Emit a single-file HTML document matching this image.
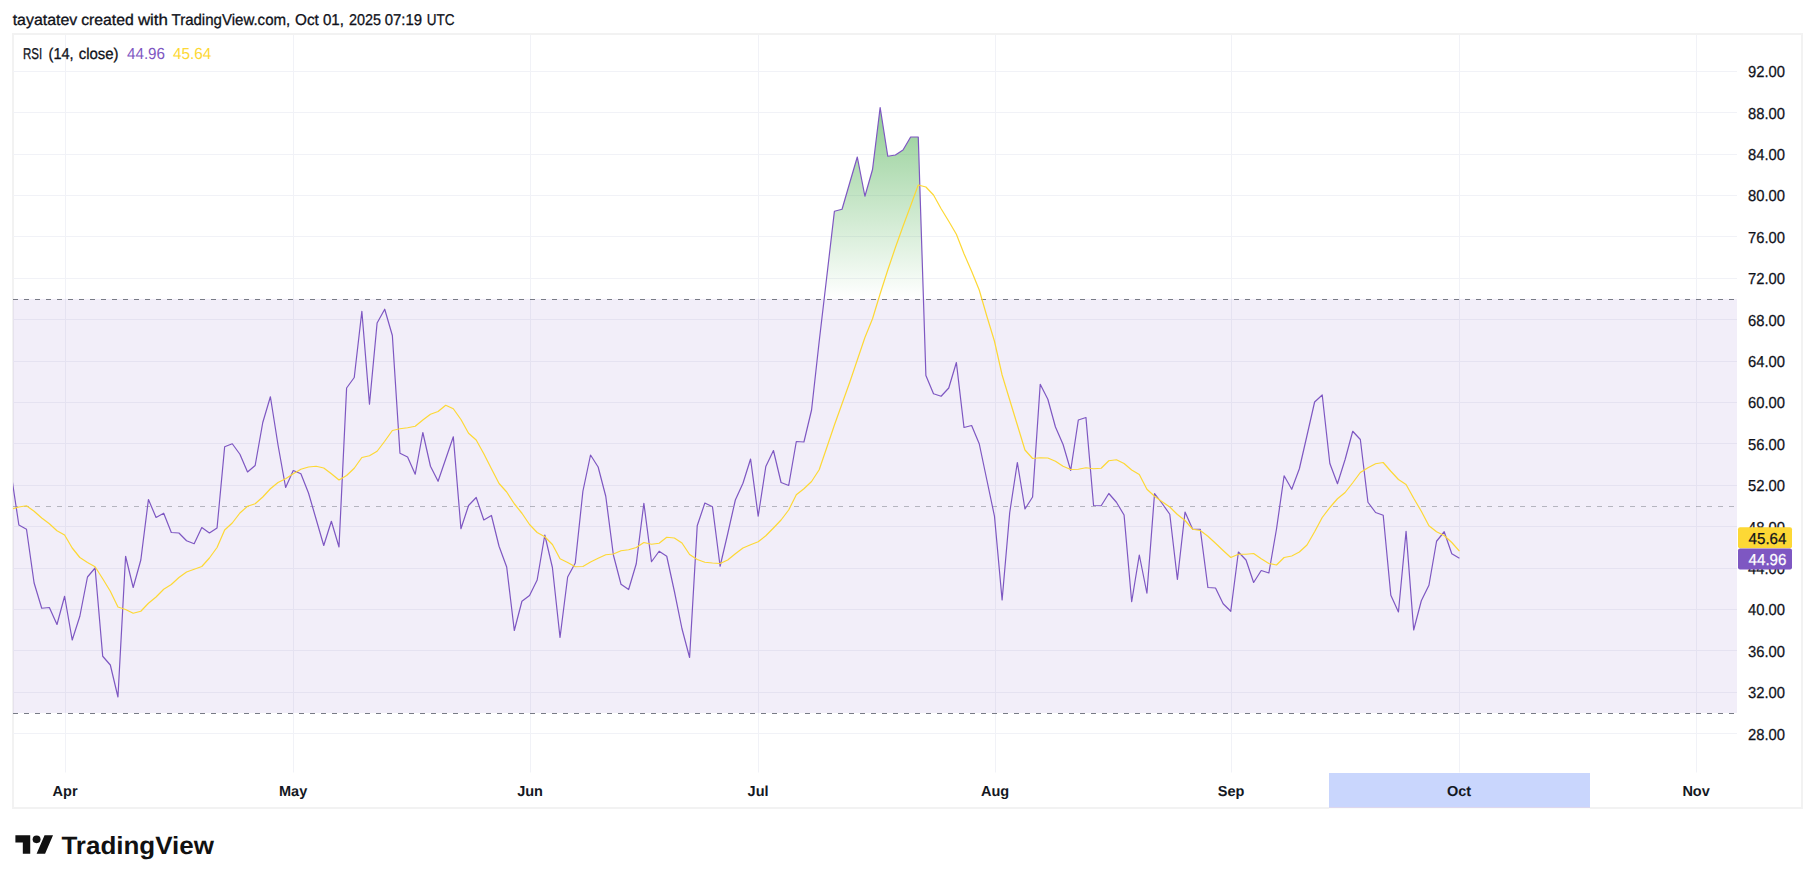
<!DOCTYPE html>
<html><head><meta charset="utf-8"><title>RSI chart</title>
<style>
html,body{margin:0;padding:0;background:#fff;}
body{width:1815px;height:883px;overflow:hidden;position:relative;font-family:"Liberation Sans",sans-serif;}
svg{position:absolute;left:0;top:0;}
text{font-family:"Liberation Sans",sans-serif;text-rendering:geometricPrecision;}
</style></head><body>
<svg width="1815" height="883" viewBox="0 0 1815 883">
<defs>
<linearGradient id="gg" gradientUnits="userSpaceOnUse" x1="0" y1="-11.6" x2="0" y2="298.9">
<stop offset="0" stop-color="#4caf50" stop-opacity="1"/><stop offset="1" stop-color="#4caf50" stop-opacity="0"/></linearGradient>
<clipPath id="pane"><rect x="13" y="35" width="1724" height="738"/></clipPath>
<clipPath id="ob"><rect x="14" y="35" width="1723" height="263.9"/></clipPath>
</defs>
<rect x="0" y="0" width="1815" height="883" fill="#fff"/>
<rect x="13" y="34" width="1789" height="774" fill="none" stroke="#f2f2f2" stroke-width="2"/>
<rect x="1329" y="773" width="261" height="34" fill="#c9d6fd"/><rect x="1329" y="807" width="261" height="1" fill="#dcd6ee"/><rect x="1329" y="808" width="261" height="1" fill="#fafcfa"/>
<g stroke="#f1f2f7" stroke-width="1" fill="none"><path d="M13,733.5H1737"/><path d="M13,692.5H1737"/><path d="M13,650.5H1737"/><path d="M13,609.5H1737"/><path d="M13,568.5H1737"/><path d="M13,526.5H1737"/><path d="M13,485.5H1737"/><path d="M13,443.5H1737"/><path d="M13,402.5H1737"/><path d="M13,361.5H1737"/><path d="M13,319.5H1737"/><path d="M13,278.5H1737"/><path d="M13,236.5H1737"/><path d="M13,195.5H1737"/><path d="M13,154.5H1737"/><path d="M13,112.5H1737"/><path d="M13,71.5H1737"/><path d="M65.5,35V772.5"/><path d="M293.5,35V772.5"/><path d="M530.5,35V772.5"/><path d="M758.5,35V772.5"/><path d="M995.5,35V772.5"/><path d="M1231.5,35V772.5"/><path d="M1459.5,35V772.5"/><path d="M1696.5,35V772.5"/></g>
<rect x="13" y="298.9" width="1724" height="414.1" fill="#7e57c2" fill-opacity="0.1"/>
<g clip-path="url(#ob)"><path d="M811.56,318.944 L811.56,410 L819.18,341.5 L826.8,276.5 L834.42,211.25 L842.04,209.25 L849.67,183 L857.29,157 L864.91,196.25 L872.53,169.5 L880.15,107.5 L887.78,156.25 L895.4,155 L903.02,150 L910.64,137 L918.26,137 L925.89,375.5 L933.51,393.75 L933.51,318.944 Z" fill="url(#gg)"/></g>
<g fill="none" stroke-width="1" stroke-dasharray="5 6">
<path d="M13,299.5H1737" stroke="#787b86"/>
<path d="M13,506.5H1737" stroke="#787b86" stroke-opacity="0.5"/>
<path d="M13,713.5H1737" stroke="#787b86"/>
</g>
<g clip-path="url(#pane)" fill="none" stroke-width="1.2" stroke-linejoin="round">
<polyline points="11.25,474.5 18.87,525 26.49,529.25 34.11,583 41.73,608.25 49.36,607.5 56.98,624.5 64.6,596.25 72.22,640 79.84,616.25 87.47,577 95.09,568 102.71,656.25 110.33,665 117.95,697 125.58,556.25 133.2,587.5 140.82,560 148.44,499.5 156.06,517.5 163.69,513.25 171.31,532.5 178.93,533 186.55,540.75 194.17,543.75 201.8,527.5 209.42,533 217.04,528 224.66,446.75 232.28,443.75 239.91,454.25 247.53,472 255.15,465.5 262.77,422.5 270.39,396.75 278.02,445 285.64,487.5 293.26,470.5 300.88,473.75 308.5,493 316.13,519.25 323.75,545.5 331.37,521.25 338.99,547 346.61,388 354.24,377.5 361.86,311.25 369.48,404.25 377.1,323 384.72,309.25 392.35,335.5 399.97,453.25 407.59,457 415.21,474.25 422.83,432.5 430.46,466.25 438.08,481.25 445.7,459 453.32,436.75 460.94,528.75 468.57,505.5 476.19,497.5 483.81,520 491.43,515.5 499.05,546.25 506.68,567 514.3,630.5 521.92,601.25 529.54,595.5 537.16,580 544.79,535 552.41,567.5 560.03,637.5 567.65,577 575.27,563 582.9,491.25 590.52,455 598.14,467 605.76,496.25 613.38,555 621.01,584.25 628.63,589.5 636.25,563.75 643.87,503.25 651.49,561.75 659.12,551.25 666.74,556.25 674.36,591.25 681.98,628.75 689.6,657.5 697.23,525.75 704.85,503 712.47,506.75 720.09,566.25 727.71,533.75 735.34,500 742.96,483.25 750.58,459 758.2,516.25 765.82,466.5 773.45,450.5 781.07,482.5 788.69,485.5 796.31,441.5 803.93,442 811.56,410 819.18,341.5 826.8,276.5 834.42,211.25 842.04,209.25 849.67,183 857.29,157 864.91,196.25 872.53,169.5 880.15,107.5 887.78,156.25 895.4,155 903.02,150 910.64,137 918.26,137 925.89,375.5 933.51,393.75 941.13,396.25 948.75,388 956.37,362.5 964.0,427.5 971.62,425.5 979.24,443.75 986.86,480 994.48,516.25 1002.11,600 1009.73,512.5 1017.35,462.5 1024.97,509 1032.59,497 1040.22,384.25 1047.84,399.25 1055.46,427 1063.08,444.5 1070.7,470.5 1078.33,420 1085.95,417.5 1093.57,505.5 1101.19,505.75 1108.81,493.5 1116.44,502.25 1124.06,515 1131.68,601.75 1139.3,555 1146.92,593.25 1154.55,493.5 1162.17,503.5 1169.79,514.25 1177.41,579.5 1185.03,512 1192.66,529.25 1200.28,529.25 1207.9,587.5 1215.52,588 1223.14,603.75 1230.77,611.25 1238.39,552 1246.01,560 1253.63,582.5 1261.25,570.5 1268.88,573 1276.5,529 1284.12,475.75 1291.74,489.25 1299.36,468.75 1306.99,435.5 1314.61,402 1322.23,395 1329.85,463.5 1337.47,483.75 1345.1,459.5 1352.72,431.25 1360.34,439.5 1367.96,502.25 1375.58,512.5 1383.21,515.25 1390.83,595.25 1398.45,612 1406.07,531.25 1413.69,630 1421.32,600.75 1428.94,585.25 1436.56,541.25 1444.18,531.75 1451.8,553.75 1459.43,558.2" stroke="#7e57c2"/>
<polyline points="11.25,509 18.87,507 26.49,505.75 34.11,511.25 41.73,518 49.36,523.75 56.98,530.75 64.6,535 72.22,548 79.84,557.5 87.47,562.5 95.09,566.75 102.71,578.75 110.33,591.25 117.95,607 125.58,609.5 133.2,613.25 140.82,611.25 148.44,603.25 156.06,597 163.69,589.25 171.31,584.5 178.93,577.5 186.55,572 194.17,569.25 201.8,566.5 209.42,558 217.04,547.5 224.66,530 232.28,523 239.91,513 247.53,506.25 255.15,503.75 262.77,497 270.39,488.75 278.02,482.5 285.64,478.75 293.26,473.75 300.88,469.25 308.5,467 316.13,466.25 323.75,468 331.37,473.75 338.99,480 346.61,475.5 354.24,468.25 361.86,457.5 369.48,455.75 377.1,451.25 384.72,441.25 392.35,430.5 399.97,428.75 407.59,427.75 415.21,426.25 422.83,420 430.46,414.25 438.08,411.5 445.7,405.25 453.32,408.75 460.94,419.5 468.57,433.25 476.19,440 483.81,453.75 491.43,468.75 499.05,483.5 506.68,492 514.3,503.75 521.92,513.25 529.54,524.5 537.16,532.5 544.79,536.75 552.41,544.5 560.03,558.75 567.65,562.5 575.27,566.75 582.9,566.5 590.52,562 598.14,558.25 605.76,554.75 613.38,554 621.01,550.75 628.63,549.75 636.25,547.5 643.87,542.5 651.49,544.25 659.12,543.25 666.74,537.25 674.36,538 681.98,543 689.6,554.5 697.23,559.5 704.85,562.25 712.47,563 720.09,563.5 727.71,560 735.34,553.75 742.96,548 750.58,544.75 758.2,541.75 765.82,535.75 773.45,528 781.07,520 788.69,510 796.31,494.75 803.93,488.75 811.56,481.5 819.18,469.75 826.8,447.5 834.42,425 842.04,403.75 849.67,382.5 857.29,360 864.91,337.5 872.53,318.75 880.15,293.75 887.78,270 895.4,247.5 903.02,226.25 910.64,205.75 918.26,185 925.89,187 933.51,195 941.13,208.75 948.75,221.25 956.37,234.25 964.0,253.75 971.62,271.25 979.24,290 986.86,316.25 994.48,341.25 1002.11,375 1009.73,400 1017.35,425 1024.97,450 1032.59,458.5 1040.22,457.75 1047.84,458 1055.46,461.25 1063.08,466.25 1070.7,469.5 1078.33,469.25 1085.95,467.75 1093.57,468.75 1101.19,468.25 1108.81,460.75 1116.44,459.75 1124.06,463.5 1131.68,470 1139.3,474.5 1146.92,489.25 1154.55,496.25 1162.17,501.75 1169.79,507 1177.41,514.5 1185.03,520.5 1192.66,529.25 1200.28,530.5 1207.9,536.25 1215.52,543.25 1223.14,550.5 1230.77,557.5 1238.39,554.25 1246.01,554.25 1253.63,553.5 1261.25,558.75 1268.88,563.5 1276.5,565 1284.12,557.5 1291.74,556 1299.36,552 1306.99,545 1314.61,531.75 1322.23,517.5 1329.85,507.5 1337.47,498.75 1345.1,492.5 1352.72,482.75 1360.34,472.5 1367.96,467.75 1375.58,463.75 1383.21,462.5 1390.83,471.25 1398.45,479.5 1406.07,484.5 1413.69,498.25 1421.32,511.25 1428.94,525.75 1436.56,531.75 1444.18,535.5 1451.8,542.5 1459.43,551.1" stroke="#fdd835"/>
</g>
<g font-size="15.9px" fill="#10121a" stroke="#10121a" stroke-width="0.25"><text x="1748" y="739.63" textLength="37.0" lengthAdjust="spacingAndGlyphs">28.00</text><text x="1748" y="698.22" textLength="37.0" lengthAdjust="spacingAndGlyphs">32.00</text><text x="1748" y="656.81" textLength="37.0" lengthAdjust="spacingAndGlyphs">36.00</text><text x="1748" y="615.40" textLength="37.0" lengthAdjust="spacingAndGlyphs">40.00</text><text x="1748" y="574.00" textLength="37.0" lengthAdjust="spacingAndGlyphs">44.00</text><text x="1748" y="532.59" textLength="37.0" lengthAdjust="spacingAndGlyphs">48.00</text><text x="1748" y="491.18" textLength="37.0" lengthAdjust="spacingAndGlyphs">52.00</text><text x="1748" y="449.77" textLength="37.0" lengthAdjust="spacingAndGlyphs">56.00</text><text x="1748" y="408.36" textLength="37.0" lengthAdjust="spacingAndGlyphs">60.00</text><text x="1748" y="366.96" textLength="37.0" lengthAdjust="spacingAndGlyphs">64.00</text><text x="1748" y="325.55" textLength="37.0" lengthAdjust="spacingAndGlyphs">68.00</text><text x="1748" y="284.14" textLength="37.0" lengthAdjust="spacingAndGlyphs">72.00</text><text x="1748" y="242.73" textLength="37.0" lengthAdjust="spacingAndGlyphs">76.00</text><text x="1748" y="201.32" textLength="37.0" lengthAdjust="spacingAndGlyphs">80.00</text><text x="1748" y="159.92" textLength="37.0" lengthAdjust="spacingAndGlyphs">84.00</text><text x="1748" y="118.51" textLength="37.0" lengthAdjust="spacingAndGlyphs">88.00</text><text x="1748" y="77.10" textLength="37.0" lengthAdjust="spacingAndGlyphs">92.00</text></g>
<rect x="1738" y="527.3" width="54" height="21" rx="2" fill="#fdd835"/>
<rect x="1738" y="548.5" width="54" height="21" rx="2" fill="#7e57c2"/>
<g font-size="15.9px"><text x="1748.6" y="544" fill="#10121a" stroke="#10121a" stroke-width="0.25" textLength="37.8" lengthAdjust="spacingAndGlyphs">45.64</text><text x="1748.6" y="565.2" fill="#fff" stroke="#fff" stroke-width="0.25" textLength="37.8" lengthAdjust="spacingAndGlyphs">44.96</text></g>
<g font-size="14.5px" font-weight="bold" fill="#131722" text-anchor="middle"><text x="65.1" y="795.8">Apr</text><text x="293.1" y="795.8">May</text><text x="530.1" y="795.8">Jun</text><text x="758.1" y="795.8">Jul</text><text x="995.1" y="795.8">Aug</text><text x="1231.1" y="795.8">Sep</text><text x="1459.1" y="795.8">Oct</text><text x="1696.1" y="795.8">Nov</text></g>
<text id="h0" x="12.7" y="25" font-size="15.6px" fill="#10121a" stroke="#10121a" stroke-width="0.3" textLength="64.6" lengthAdjust="spacingAndGlyphs">tayatatev</text><text id="h1" x="81.2" y="25" font-size="15.6px" fill="#10121a" stroke="#10121a" stroke-width="0.3" textLength="52.6" lengthAdjust="spacingAndGlyphs">created</text><text id="h2" x="137.9" y="25" font-size="15.6px" fill="#10121a" stroke="#10121a" stroke-width="0.3" textLength="30.1" lengthAdjust="spacingAndGlyphs">with</text><text id="h3" x="171.5" y="25" font-size="15.6px" fill="#10121a" stroke="#10121a" stroke-width="0.3" textLength="118.7" lengthAdjust="spacingAndGlyphs">TradingView.com,</text><text id="h4" x="295.0" y="25" font-size="15.6px" fill="#10121a" stroke="#10121a" stroke-width="0.3" textLength="23.8" lengthAdjust="spacingAndGlyphs">Oct</text><text id="h5" x="322.9" y="25" font-size="15.6px" fill="#10121a" stroke="#10121a" stroke-width="0.3" textLength="21.0" lengthAdjust="spacingAndGlyphs">01,</text><text id="h6" x="348.9" y="25" font-size="15.6px" fill="#10121a" stroke="#10121a" stroke-width="0.3" textLength="32.0" lengthAdjust="spacingAndGlyphs">2025</text><text id="h7" x="384.8" y="25" font-size="15.6px" fill="#10121a" stroke="#10121a" stroke-width="0.3" textLength="37.3" lengthAdjust="spacingAndGlyphs">07:19</text><text id="h8" x="426.7" y="25" font-size="15.6px" fill="#10121a" stroke="#10121a" stroke-width="0.3" textLength="27.8" lengthAdjust="spacingAndGlyphs">UTC</text>
<text id="l0" x="22.9" y="59" font-size="15.6px" fill="#10121a" stroke="#10121a" stroke-width="0.3" textLength="19.2" lengthAdjust="spacingAndGlyphs">RSI</text><text id="l1" x="48.6" y="59" font-size="15.6px" fill="#10121a" stroke="#10121a" stroke-width="0.3" textLength="25.0" lengthAdjust="spacingAndGlyphs">(14,</text><text id="l2" x="78.7" y="59" font-size="15.6px" fill="#10121a" stroke="#10121a" stroke-width="0.3" textLength="39.9" lengthAdjust="spacingAndGlyphs">close)</text><text x="127" y="59" font-size="16px" fill="#7e57c2" id="v1" textLength="38" lengthAdjust="spacingAndGlyphs">44.96</text><text x="172.9" y="59" font-size="16px" fill="#fdd835" id="v2" textLength="38.4" lengthAdjust="spacingAndGlyphs">45.64</text>
<g transform="translate(15.4,831.2) scale(1.06,1.028)" fill="#111"><path d="M14 22H7V11H0V4h14v18zM28 22h-8l7.500-18h8L28 22z"/><circle cx="20" cy="7.9" r="3.75"/></g>
<text x="61.4" y="854" font-size="25px" font-weight="bold" fill="#111" id="logo" textLength="152.6" lengthAdjust="spacingAndGlyphs">TradingView</text>
</svg>
</body></html>
